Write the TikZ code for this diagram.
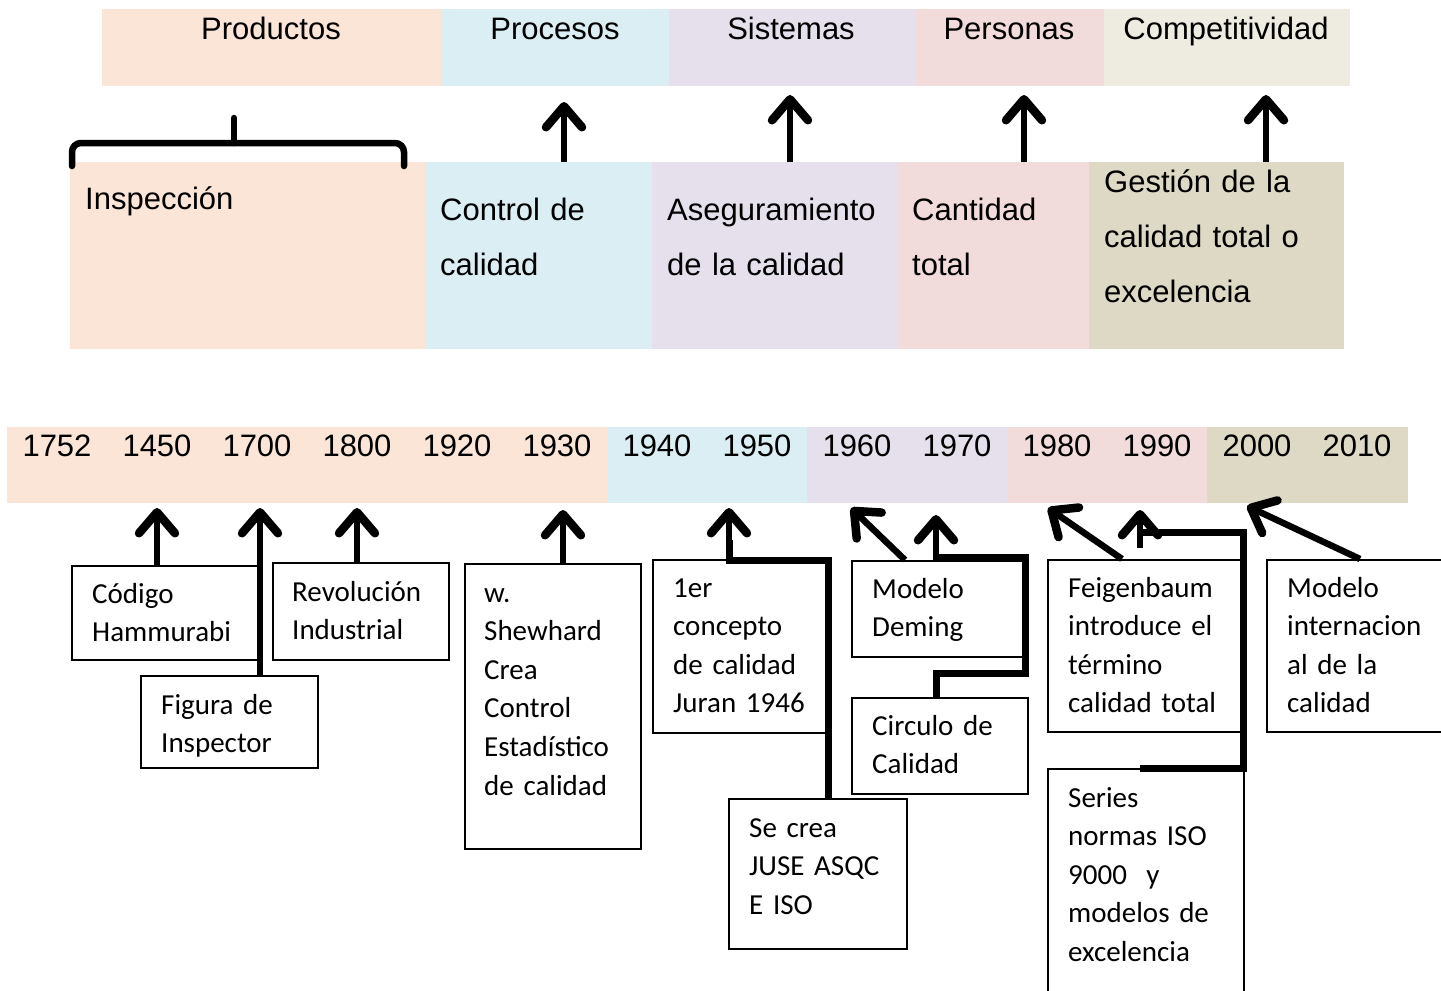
\documentclass[tikz,border=0pt]{standalone}
\usepackage{fontspec}
\setmainfont{Liberation Sans}
\newfontfamily\calibrifont{Carlito}
\usetikzlibrary{arrows.meta}
\definecolor{cPeach}{HTML}{FBE5D6}
\definecolor{cBlue}{HTML}{DAEEF3}
\definecolor{cLav}{HTML}{E5E0EC}
\definecolor{cPink}{HTML}{F2DCDB}
\definecolor{cTan}{HTML}{EEECE1}
\definecolor{cKhaki}{HTML}{DDD9C4}
\begin{document}
\begin{tikzpicture}[x=1pt,y=-1pt,
  seg/.style={inner sep=0pt, outer sep=0pt, anchor=north west, draw=none},
  hd/.style={font=\fontsize{31}{37}\selectfont, inner sep=0pt, anchor=base},
  ttl/.style={font=\fontsize{31}{55}\selectfont, inner sep=0pt, text width=260pt, align=left, anchor=base west},
  bx/.style={draw=black, line width=1.8pt, inner sep=0pt, anchor=north west},
  btxt/.style={font=\calibrifont\fontsize{29}{38.6}\selectfont, inner sep=0pt, text width=200pt, align=left, anchor=base west},
  arr/.style={line width=6.5pt, -{Straight Barb[length=21pt,width=36pt,line width=8.5pt,round]}},
  conn/.style={line width=7pt, line join=miter},
]
\useasboundingbox (0,0) rectangle (1441,991);
% top band
\node[seg, fill=cPeach, minimum width=339pt, minimum height=77pt] (tProd) at (102,9) {};
\node[seg, fill=cBlue,  minimum width=228pt, minimum height=77pt] (tProc) at (441,9) {};
\node[seg, fill=cLav,   minimum width=246pt, minimum height=77pt] (tSist) at (669,9) {};
\node[seg, fill=cPink,  minimum width=189pt, minimum height=77pt] (tPers) at (915,9) {};
\node[seg, fill=cTan,   minimum width=246pt, minimum height=77pt] (tComp) at (1104,9) {};
\node[hd] (lProd) at (271,39) {Productos};
\node[hd] (lProc) at (555,39) {Procesos};
\node[hd] (lSist) at (791,39) {Sistemas};
\node[hd] (lPers) at (1009,39) {Personas};
\node[hd] (lComp) at (1226,39) {Competitividad};
% middle band
\node[seg, fill=cPeach, minimum width=355pt, minimum height=187pt] (mInsp) at (70,162) {};
\node[seg, fill=cBlue,  minimum width=227pt, minimum height=187pt] (mCtrl) at (425,162) {};
\node[seg, fill=cLav,   minimum width=246pt, minimum height=187pt] (mAseg) at (652,162) {};
\node[seg, fill=cPink,  minimum width=191pt, minimum height=187pt] (mCant) at (898,162) {};
\node[seg, fill=cKhaki, minimum width=255pt, minimum height=187pt] (mGest) at (1089,162) {};
\node[ttl] (xInsp) at (85,209) {Inspección};
\node[ttl] (xCtrl) at (440,220) {Control de\\calidad};
\node[ttl] (xAseg) at (667,220) {Aseguramiento\\de la calidad};
\node[ttl] (xCant) at (912,220) {Cantidad\\total};
\node[ttl] (xGest) at (1104,192) {Gestión de la\\calidad total o\\excelencia};
% brace
\coordinate (brL) at (72,166);
\coordinate (brR) at (404,166);
\coordinate (brC) at (234,118);
\draw[line width=6.5pt, rounded corners=9pt, line cap=round] (brL) -- (brL |- 0,143) -- (brR |- 0,143) -- (brR);
\draw[line width=6.5pt, line cap=round] (brC |- 0,143) -- (brC);
% top arrows
\coordinate (aProc) at (564,102);
\coordinate (aSist) at (790,95);
\coordinate (aPers) at (1024,95);
\coordinate (aComp) at (1266,95);
\draw[arr] (mCtrl.north -| aProc) -- (aProc);
\draw[arr] (mAseg.north -| aSist) -- (aSist);
\draw[arr] (mCant.north -| aPers) -- (aPers);
\draw[arr] (mGest.north -| aComp) -- (aComp);
% timeline
\node[seg, fill=cPeach, minimum width=600pt, minimum height=76pt] (yA) at (7,427) {};
\node[seg, fill=cBlue,  minimum width=200pt, minimum height=76pt] (yB) at (607,427) {};
\node[seg, fill=cLav,   minimum width=200pt, minimum height=76pt] (yC) at (807,427) {};
\node[seg, fill=cPink,  minimum width=200pt, minimum height=76pt] (yD) at (1007,427) {};
\node[seg, fill=cKhaki, minimum width=201pt, minimum height=76pt] (yE) at (1207,427) {};
\foreach \yy [count=\i from 0] in {1752,1450,1700,1800,1920,1930,1940,1950,1960,1970,1980,1990,2000,2010}
  \node[hd] (yr\i) at (57+100*\i,456) {\yy};
% boxes
\node[bx, minimum width=186pt, minimum height=94pt] (cod) at (71,565) {};
\node[bx, minimum width=177pt, minimum height=92pt] (fig) at (140,675) {};
\node[bx, minimum width=176pt, minimum height=97pt] (rev) at (272,562) {};
\node[bx, minimum width=176pt, minimum height=285pt] (shew) at (464,563) {};
\node[bx, minimum width=174pt, minimum height=173pt] (jur) at (652,559) {};
\node[bx, minimum width=178pt, minimum height=150pt] (jus) at (728,798) {};
\node[bx, minimum width=174pt, minimum height=96pt] (dem) at (851,560) {};
\node[bx, minimum width=176pt, minimum height=96pt] (cir) at (851,697) {};
\node[bx, minimum width=195pt, minimum height=172pt] (fei) at (1047,559) {};
\node[bx, minimum width=200pt, minimum height=172pt] (mod) at (1266,559) {};
\node[bx, minimum width=196pt, minimum height=240pt] (ser) at (1047,768) {};
\node[btxt] (tcod) at ([xshift=21pt,yshift=-38pt]cod.north west) {Código\\Hammurabi};
\node[btxt] (tfig) at ([xshift=21pt,yshift=-39pt]fig.north west) {Figura de\\Inspector};
\node[btxt] (trev) at ([xshift=20pt,yshift=-39pt]rev.north west) {Revolución\\Industrial};
\node[btxt] (tshew) at ([xshift=20pt,yshift=-39pt]shew.north west) {w.\\Shewhard\\Crea\\Control\\Estadístico\\de calidad};
\node[btxt] (tjur) at ([xshift=21pt,yshift=-38pt]jur.north west) {1er\\concepto\\de calidad\\Juran 1946};
\node[btxt] (tjus) at ([xshift=21pt,yshift=-39pt]jus.north west) {Se crea\\JUSE ASQC\\E ISO};
\node[btxt] (tdem) at ([xshift=21pt,yshift=-38pt]dem.north west) {Modelo\\Deming};
\node[btxt] (tcir) at ([xshift=21pt,yshift=-38pt]cir.north west) {Circulo de\\Calidad};
\node[btxt] (tfei) at ([xshift=21pt,yshift=-38pt]fei.north west) {Feigenbaum\\introduce el\\término\\calidad total};
\node[btxt] (tmod) at ([xshift=21pt,yshift=-38pt]mod.north west) {Modelo\\internacion\\al de la\\calidad};
\node[btxt] (tser) at ([xshift=21pt,yshift=-39pt]ser.north west) {Series\\normas ISO\\9000\ \ y\\modelos de\\excelencia};
% arrow targets
\coordinate (k1450) at (157,508);
\coordinate (k1700) at (260,508);
\coordinate (k1800) at (357,508);
\coordinate (k1930) at (563,510);
\coordinate (k1950) at (729,508);
\coordinate (k1960) at (851,508);
\coordinate (k1970) at (936,515);
\coordinate (k1980) at (1048,508);
\coordinate (k1990) at (1140,510);
\coordinate (k2000) at (1247,506);
% bend points
\coordinate (jA) at (828,560);
\coordinate (cA) at (1025,673);
\coordinate (cB) at (1025,557);
\coordinate (sA) at (1243,768);
\coordinate (sB) at (1243,532);
\coordinate (sC) at (1140,548);
% connectors
\draw[arr] (cod.north -| k1450) -- (k1450);
\draw[arr] (fig.north -| k1700) -- (k1700);
\draw[arr] (rev.north -| k1800) -- (k1800);
\draw[arr] (shew.north -| k1930) -- (k1930);
\draw[conn] (jus.north -| jA) -- (jA) -- (jA -| k1950) -- ++(0,-20);
\draw[arr] (jA -| k1950) -- (k1950);
\draw[arr] ([xshift=54pt]dem.north west) -- (k1960);
\draw[conn] (cir.north -| k1970) -- (cA -| k1970) -- (cA) -- (cB) -- (cB -| k1970);
\draw[arr] ([yshift=-3pt]cB -| k1970) -- (k1970);
\draw[arr] ([xshift=75pt]fei.north west) -- (k1980);
\draw[conn] (ser.north -| sC) -- (sA) -- (sB) -- (sB -| sC);
\draw[arr] (sC) -- (k1990);
\draw[arr] ([xshift=94pt]mod.north west) -- (k2000);
\end{tikzpicture}
\end{document}
